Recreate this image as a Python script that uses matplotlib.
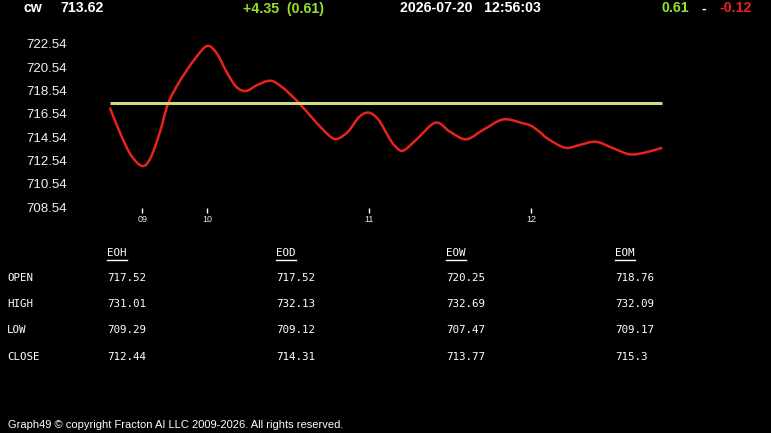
import matplotlib
matplotlib.use('Agg')
import matplotlib.pyplot as plt
from matplotlib.lines import Line2D
from matplotlib.path import Path
from matplotlib.patches import PathPatch

W, H = 771, 433

# price curve (hour of day, price)
hours = [9.40, 9.46, 9.53, 9.60, 9.65, 9.71, 9.76, 9.83, 9.92, 10.00,
         10.06, 10.12, 10.18, 10.24, 10.31, 10.39, 10.46, 10.56, 10.67, 10.75,
         10.80, 10.87, 10.94, 11.00, 11.06, 11.12, 11.16, 11.21, 11.29, 11.41,
         11.50, 11.60, 11.71, 11.83, 11.95, 12.00, 12.06, 12.10, 12.21, 12.30,
         12.40, 12.51, 12.61, 12.71, 12.81]
prices = [717.08, 715.02, 713.02, 712.08, 712.74, 715.02, 717.45, 719.31, 721.17, 722.37,
          721.74, 720.16, 718.88, 718.51, 719.02, 719.39, 718.88, 717.59, 715.88, 714.74,
          714.39, 715.02, 716.30, 716.65, 716.02, 714.59, 713.79, 713.39, 714.31, 715.79,
          715.02, 714.37, 715.22, 716.08, 715.74, 715.53, 714.93, 714.45, 713.65, 713.88,
          714.16, 713.59, 713.08, 713.25, 713.65]
open_price = 717.52

symbol = 'cw'
last_price = '713.62'
change = '+4.35  (0.61)'
stamp = '2026-07-20   12:56:03'
range_hi = '0.61'
range_lo = '-0.12'

y_ticks = [708.54, 710.54, 712.54, 714.54, 716.54, 718.54, 720.54, 722.54]
x_ticks = [9.6, 10, 11, 12]
x_labels = ['09', '10', '11', '12']

periods = ['EOH', 'EOD', 'EOW', 'EOM']
rows = ['OPEN', 'HIGH', 'LOW', 'CLOSE']
eoh = ['717.52', '731.01', '709.29', '712.44']
eod = ['717.52', '732.13', '709.12', '714.31']
eow = ['720.25', '732.69', '707.47', '713.77']
eom = ['718.76', '732.09', '709.17', '715.3']

GREEN = '#97e02a'
RED = '#e8221c'


def fx(px):
    return px / W


def fy(py):
    return 1 - py / H


def smooth_path(xs, ys):
    # cubic bezier through every point (catmull-rom handles)
    pts = list(zip(xs, ys))
    n = len(pts)
    verts = [pts[0]]
    codes = [Path.MOVETO]
    for i in range(n - 1):
        p0 = pts[max(i - 1, 0)]
        p1 = pts[i]
        p2 = pts[i + 1]
        p3 = pts[min(i + 2, n - 1)]
        c1 = (p1[0] + (p2[0] - p0[0]) / 6, p1[1] + (p2[1] - p0[1]) / 6)
        c2 = (p2[0] - (p3[0] - p1[0]) / 6, p2[1] - (p3[1] - p1[1]) / 6)
        verts += [c1, c2, p2]
        codes += [Path.CURVE4] * 3
    return Path(verts, codes)


fig = plt.figure(figsize=(W / 100, H / 100), dpi=100, facecolor='black')

# chart area
ax = fig.add_axes([fx(70), fy(213), (680 - 70) / W, (213 - 35) / H])
ax.set_facecolor('black')
ax.set_xlim(9.154, 12.920)
ax.set_ylim(708.05, 723.31)
for s in ax.spines.values():
    s.set_visible(False)

ax.add_patch(PathPatch(smooth_path(hours, prices), facecolor='none', edgecolor=RED,
                       lw=1.8, joinstyle='round', zorder=2))
ax.hlines(open_price, hours[0], hours[-1], color='#cfdc7e', lw=2.2, zorder=3)

ax.set_yticks(y_ticks)
ax.set_yticklabels(['%.2f' % v for v in y_ticks], family='Liberation Sans', fontsize=9.5)
ax.tick_params(axis='y', length=0, pad=2.2, labelcolor='#f2f2f2')
ax.set_xticks(x_ticks)
ax.set_xticklabels(x_labels, family='Liberation Sans', fontsize=6.5)
ax.tick_params(axis='x', direction='in', length=3.6, width=1, color='white',
               pad=1.5, labelcolor='#e8e8e8')

# header line
hdr = dict(family='Liberation Sans', fontweight='bold', fontsize=10.2, va='center')
fig.text(fx(24), fy(8.5), symbol, color='white', **hdr)
fig.text(fx(60), fy(8.5), last_price, color='white', **hdr)
fig.text(fx(243), fy(8.5), change, color=GREEN, **hdr)
fig.text(fx(400), fy(8.5), stamp, color='white', **hdr)
fig.text(fx(662), fy(8.5), range_hi, color=GREEN, **hdr)
fig.text(fx(701), fy(8.5), '-', color='white', **hdr)
fig.text(fx(720), fy(8.5), range_lo, color=RED, **hdr)

# summary table
mono = dict(family='DejaVu Sans Mono', fontsize=7.8, color='white', va='center')
col_x = [107, 276, 446, 615]
row_y = [278, 304, 330, 357]
cols = [eoh, eod, eow, eom]
heads = []
for x, name in zip(col_x, periods):
    heads.append(fig.text(fx(x), fy(253), name, **mono))
for y, name in zip(row_y, rows):
    fig.text(fx(7), fy(y), name, **mono)
for x, vals in zip(col_x, cols):
    for y, v in zip(row_y, vals):
        fig.text(fx(x), fy(y), v, **mono)

fig.canvas.draw()
for t in heads:
    bb = t.get_window_extent()
    fig.add_artist(Line2D([bb.x0 / W, bb.x1 / W], [fy(259.5), fy(259.5)],
                          color='white', lw=1, transform=fig.transFigure))

fig.text(fx(8), fy(425.5), 'Graph49 \u00a9 copyright Fracton AI LLC 2009-2026. All rights reserved.',
         family='Liberation Sans', fontsize=8.0, color='white', va='center')

fig.savefig('out.png', dpi=100, facecolor='black')
